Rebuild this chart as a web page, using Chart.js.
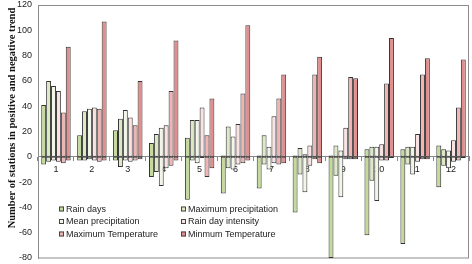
<!DOCTYPE html>
<html>
<head>
<meta charset="utf-8">
<script src="https://cdn.jsdelivr.net/npm/chart.js@4/dist/chart.umd.min.js"></script>
<style>
  html, body { margin: 0; padding: 0; background: #fff; }
  #wrap { width: 472px; height: 264px; position: relative; }
</style>
</head>
<body>
<div id="wrap"><canvas id="c"></canvas></div>
<script>
const months = ['1', '2', '3', '4', '5', '6', '7', '8', '9', '10', '11', '12'];
const seriesNames = ['Rain days', 'Maximum precipitation', 'Mean precipitation',
                     'Rain day intensity', 'Maximum Temperature', 'Minmum Temperature'];

// stations with positive trend
const rainDaysPos  = [41, 17, 21, 11, 15, 1, 1, 1, 1, 6, 6, 9];
const maxPrecPos   = [60, 36, 30, 18, 29, 24, 17, 7, 9, 8, 8, 6];
const meanPrecPos  = [56, 38, 37, 23, 29, 16, 8, 2, 5, 8, 8, 5];
const intensityPos = [52, 39, 31, 25, 39, 26, 32, 9, 23, 10, 18, 13];
const maxTempPos   = [35, 38, 25, 52, 17, 50, 46, 65, 63, 58, 65, 39];
const minTempPos   = [87, 107, 60, 92, 46, 104, 65, 79, 62, 94, 78, 77];

// stations with negative trend
const rainDaysNeg  = [-6, -3, -3, -16, -34, -29, -25, -44, -80, -62, -69, -24];
const maxPrecNeg   = [-4, -3, -8, -12, -3, -9, -6, -14, -15, -19, -6, -7];
const meanPrecNeg  = [-3, -2, -3, -23, -5, -10, -10, -28, -32, -35, -14, -9];
const intensityNeg = [-4, -3, -4, -9, -1, -6, -5, -7, -2, -3, -4, -4];
const maxTempNeg   = [-5, -4, -3, -7, -16, -5, -6, -2, -2, -3, -2, -3];
const minTempNeg   = [-3, -3, -2, -3, -9, -3, -5, -5, -2, -1, -2, -1];

const yTicks = [-80, -60, -40, -20, 0, 20, 40, 60, 80, 100, 120];

const colors = ['#c4da9c', '#dde9c4', '#f2f6e8', '#fae2e2', '#efb5b5', '#e08e8e'];
const posData = [rainDaysPos, maxPrecPos, meanPrecPos, intensityPos, maxTempPos, minTempPos];
const negData = [rainDaysNeg, maxPrecNeg, meanPrecNeg, intensityNeg, maxTempNeg, minTempNeg];

const datasets = [];
seriesNames.forEach((name, i) => {
    [posData[i], negData[i]].forEach(d => {
        datasets.push({
            label: name,
            data: d,
            stack: 's' + i,
            backgroundColor: colors[i],
            borderColor: '#333',
            borderWidth: 1,
            borderSkipped: false
        });
    });
});

const smallFont = { family: '"Liberation Sans", Arial, sans-serif', size: 9 };

// frame, y title and legend drawn by hand
const extras = {
    id: 'extras',
    beforeDatasetsDraw(chart) {
        const { ctx, chartArea: a } = chart;
        ctx.save();
        ctx.strokeStyle = '#8c8c8c';
        ctx.lineWidth = 1;
        ctx.strokeRect(a.left + 0.5, a.top + 0.5, a.right - a.left - 1, a.bottom - a.top - 0.5);
        ctx.restore();
    },
    afterDraw(chart) {
        const ctx = chart.ctx;
        ctx.save();
        ctx.translate(12, 118);
        ctx.rotate(-Math.PI / 2);
        ctx.font = 'bold 10.5px "Liberation Serif", "Times New Roman", serif';
        ctx.fillStyle = '#111';
        ctx.textAlign = 'center';
        ctx.textBaseline = 'middle';
        ctx.fillText('Number of stations in positive and negative trend', 0, 0);
        ctx.restore();

        ctx.save();
        ctx.font = '9px "Liberation Sans", Arial, sans-serif';
        ctx.textBaseline = 'middle';
        seriesNames.forEach((name, i) => {
            const x = i % 2 === 0 ? 59 : 181;
            const y = 209 + Math.floor(i / 2) * 12.5;
            ctx.fillStyle = colors[i];
            ctx.fillRect(x, y - 2.5, 5, 5);
            ctx.strokeStyle = '#444';
            ctx.strokeRect(x + 0.5, y - 2, 4, 4);
            ctx.fillStyle = '#222';
            ctx.fillText(name, x + 7, y + 0.5);
        });
        ctx.restore();
    }
};

new Chart(document.getElementById('c'), {
    type: 'bar',
    data: { labels: months, datasets },
    plugins: [extras],
    options: {
        responsive: true,
        maintainAspectRatio: false,
        animation: false,
        categoryPercentage: 0.82,
        barPercentage: 1.0,
        layout: { padding: { top: 5, right: 3, bottom: 6, left: 0 } },
        plugins: { legend: { display: false }, tooltip: { enabled: false } },
        scales: {
            x: {
                type: 'category',
                position: { y: 0 },
                afterFit: s => { s.height = 0; s.paddingLeft = 0; s.paddingRight = 0; },
                grid: { display: true, drawOnChartArea: false, drawTicks: true, tickLength: 4, offset: true, color: '#888' },
                border: { display: true, color: '#888', dash: [3, 2] },
                ticks: { color: '#222', font: smallFont, padding: 3, maxRotation: 0, autoSkip: false }
            },
            y: {
                stacked: true,
                min: -80,
                max: 120,
                afterBuildTicks: s => { s.ticks = yTicks.map(v => ({ value: v })); },
                afterFit: s => { s.width = 38; s.paddingTop = 0; s.paddingBottom = 0; },
                grid: { display: false, drawTicks: false },
                border: { display: true, color: '#888' },
                ticks: { color: '#222', font: smallFont, padding: 6 }
            }
        }
    }
});
</script>
</body>
</html>
